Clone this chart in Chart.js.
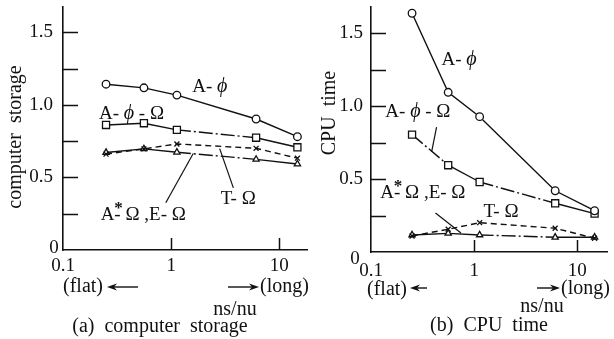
<!DOCTYPE html>
<html>
<head>
<meta charset="utf-8">
<script src="https://cdn.jsdelivr.net/npm/chart.js@4/dist/chart.umd.min.js"></script>
<style>
  html, body { margin: 0; padding: 0; background: #fff; }
  #wrap { position: relative; width: 614px; height: 339px; overflow: hidden; background: #fff; }
  #cvA, #cvB { position: absolute; top: 0; }
  #cvA { left: 0; }
  #cvB { left: 314px; }
</style>
</head>
<body>
<div id="wrap">
  <canvas id="cvA" width="314" height="339"></canvas>
  <canvas id="cvB" width="300" height="339"></canvas>
</div>
<script>
// ns/nu ratios of the test models
const xValues = [0.25, 0.56, 1.13, 6.1, 14.7];
const xTickValues = [0.1, 1, 10];
const xTickLabels = ['0.1', '1', '10'];
const yTickValues = [0, 0.25, 0.5, 0.75, 1, 1.25, 1.5];
const yTickLabels = ['0', '', '0.5', '', '1.0', '', '1.5'];

// (a) computer storage
const storageAPhi       = [1.143, 1.118, 1.068, 0.903, 0.781];
const storageAPhiOmega  = [0.862, 0.874, 0.828, 0.774, 0.708];
const storageTOmega     = [0.661, 0.697, 0.731, 0.701, 0.633];
const storageAStarOmega = [0.672, 0.697, 0.674, 0.625, 0.593];

// (b) CPU time
const cpuAPhi       = [1.637, 1.095, 0.928, 0.420, 0.283];
const cpuAPhiOmega  = [0.805, 0.595, 0.480, 0.334, 0.263];
const cpuTOmega     = [0.110, 0.156, 0.201, 0.163, 0.094];
const cpuAStarOmega = [0.117, 0.128, 0.117, 0.101, 0.101];

const INK = '#111';
const SERIF = '"Liberation Serif", "Times New Roman", "DejaVu Serif", serif';
const Y_MAX = 1.68;
const DASH_DOT = [14, 3, 2, 3];
const DASHED = [6, 4];

Chart.defaults.font.family = SERIF;
Chart.defaults.color = INK;

function pairs(ys) {
  return xValues.map((x, i) => ({ x: x, y: ys[i] }));
}

function segDash(list) {
  return { borderDash: c => (list.includes(c.p0DataIndex) ? DASH_DOT : undefined) };
}

function seriesSet(phi, phiOmega, tOmega, starOmega, dd) {
  const base = {
    borderColor: INK, backgroundColor: '#fff', borderWidth: 1.4,
    pointBorderColor: INK, pointBackgroundColor: '#fff', pointBorderWidth: 1.3,
    tension: 0, fill: false
  };
  return [
    { label: 'A- ϕ', data: pairs(phi), pointStyle: 'circle', pointRadius: 3.8 },
    { label: 'A- ϕ - Ω', data: pairs(phiOmega), pointStyle: 'rect', pointRadius: 5, segment: segDash(dd.phiOmega) },
    { label: 'T- Ω', data: pairs(tOmega), pointStyle: 'crossRot', pointRadius: 3.5, borderDash: DASHED },
    { label: 'A*Ω, E- Ω', data: pairs(starOmega), pointStyle: 'triangle', pointRadius: 3.6, segment: segDash(dd.starOmega) }
  ].map(d => Object.assign({}, base, d));
}

// the scale boxes are pinned so the plot area sits exactly where the axes belong
function pin(s) {
  s.paddingTop = 0; s.paddingBottom = 0; s.paddingLeft = 0; s.paddingRight = 0;
}

function scalesFor(xMax, yWidth, xHeight, yPad, xPad) {
  return {
    x: {
      type: 'logarithmic', min: 0.1, max: xMax,
      afterBuildTicks: s => { s.ticks = xTickValues.map(v => ({ value: v })); },
      afterFit: s => { s.height = xHeight; pin(s); },
      grid: { display: false, drawTicks: false },
      border: { display: true, color: INK, width: 1.6 },
      ticks: { autoSkip: false, maxRotation: 0, minRotation: 0, padding: xPad, color: INK,
               font: { size: 19 }, callback: (v, i) => xTickLabels[i] }
    },
    y: {
      type: 'linear', min: 0, max: Y_MAX,
      afterBuildTicks: s => { s.ticks = yTickValues.map(v => ({ value: v })); },
      afterFit: s => { s.width = yWidth; pin(s); },
      grid: { display: false, drawTicks: false },
      border: { display: true, color: INK, width: 1.6 },
      ticks: { padding: yPad, color: INK, font: { size: 19 },
               callback: (v, i) => (i === 0 ? '' : yTickLabels[i]) }
    }
  };
}

function arrow(ctx, tail, head, y) {
  const d = Math.sign(head - tail);
  ctx.beginPath();
  ctx.moveTo(tail, y); ctx.lineTo(head - d * 4, y);
  ctx.stroke();
  ctx.beginPath();
  ctx.moveTo(head, y);
  ctx.lineTo(head - d * 10, y - 3.5);
  ctx.lineTo(head - d * 7, y);
  ctx.lineTo(head - d * 10, y + 3.5);
  ctx.closePath();
  ctx.fill();
}

// a curve name with the phi set in italic
function drawName(ctx, text, cx, cy) {
  const parts = text.split(/(ϕ)/).filter(p => p.length);
  const fontOf = p => (p === 'ϕ' ? 'italic 20px ' : '19px ') + SERIF;
  let w = 0;
  parts.forEach(p => { ctx.font = fontOf(p); w += ctx.measureText(p).width; });
  let x = cx - w / 2;
  ctx.textAlign = 'left';
  parts.forEach(p => { ctx.font = fontOf(p); ctx.fillText(p, x, cy); x += ctx.measureText(p).width; });
}

function drawStarLabel(ctx, cx, cy) {
  const main = 'A- Ω ,E- Ω';
  ctx.font = '19px ' + SERIF;
  const w = ctx.measureText(main).width;
  const x0 = cx - w / 2;
  ctx.textAlign = 'left';
  ctx.fillText(main, x0, cy);
  const aw = ctx.measureText('A').width;
  const hw = ctx.measureText('-').width;
  ctx.font = 'bold 17px ' + SERIF;
  ctx.textAlign = 'center';
  ctx.fillText('*', x0 + aw + hw / 2 + 1, cy - 6);
}

function marks(notes) {
  return {
    id: 'marks',
    afterDraw(chart) {
      const { ctx, chartArea: a, scales } = chart;
      const sx = scales.x, sy = scales.y;
      const px = v => sx.getPixelForValue(v);
      const py = v => sy.getPixelForValue(v);
      ctx.save();
      ctx.strokeStyle = INK; ctx.fillStyle = INK;

      // tick marks pointing into the plot
      ctx.lineWidth = 1.5;
      ctx.beginPath();
      sy.ticks.forEach(t => {
        if (t.value > 0) { const yy = Math.round(py(t.value)) + 0.5; ctx.moveTo(a.left, yy); ctx.lineTo(a.left + 15, yy); }
      });
      sx.ticks.forEach(t => {
        if (t.value > sx.min) { const xx = Math.round(px(t.value)) + 0.5; ctx.moveTo(xx, a.bottom); ctx.lineTo(xx, a.bottom - 12); }
      });
      ctx.stroke();

      // origin label
      ctx.font = '19px ' + SERIF;
      ctx.textAlign = 'center'; ctx.textBaseline = 'middle';
      ctx.fillText(yTickLabels[0], a.left + notes.zero[0], a.bottom + notes.zero[1]);

      // curve names
      notes.labels.forEach(l => drawName(ctx, l.text, px(l.x), py(l.y)));
      drawStarLabel(ctx, px(notes.star[0]), py(notes.star[1]));

      // leader lines
      ctx.lineWidth = 1.2;
      notes.leaders.forEach(p => {
        ctx.beginPath();
        ctx.moveTo(px(p[0]), py(p[1]));
        ctx.lineTo(px(p[2]), py(p[3]));
        ctx.stroke();
      });

      // axis title
      ctx.save();
      ctx.translate(notes.yTitle.x, notes.yTitle.y);
      ctx.rotate(-Math.PI / 2);
      ctx.font = '20px ' + SERIF;
      ctx.textAlign = 'center';
      ctx.fillText(notes.yTitle.text, 0, 0);
      ctx.restore();

      // captions under the axis
      ctx.font = '20px ' + SERIF;
      notes.captions.forEach(c => {
        ctx.textAlign = c.align;
        ctx.fillText(c.text, c.x, c.y);
      });
      ctx.lineWidth = 1.4;
      notes.arrows.forEach(r => arrow(ctx, r[0], r[1], r[2]));
      ctx.restore();
    }
  };
}

function build(id, datasets, scales, padding, notes) {
  return new Chart(document.getElementById(id), {
    type: 'line',
    data: { datasets: datasets },
    options: {
      responsive: false, animation: false, events: [],
      layout: { padding: padding },
      plugins: { legend: { display: false }, tooltip: { enabled: false } },
      scales: scales
    },
    plugins: [marks(notes)]
  });
}

// (a) computer storage
build('cvA',
  seriesSet(storageAPhi, storageAPhiOmega, storageTOmega, storageAStarOmega,
            { phiOmega: [2], starOmega: [2] }),
  scalesFor(18.3, 63, 89, 10, 5),
  { top: 3, right: 1, left: 0, bottom: 0 },
  {
    zero: [-9, -2],
    labels: [
      { text: 'A- ϕ', x: 2.28, y: 1.127 },
      { text: 'A- ϕ - Ω', x: 0.43, y: 0.937 },
      { text: 'T- Ω', x: 4.17, y: 0.353 }
    ],
    star: [0.552, 0.244],
    leaders: [[0.892, 0.326, 1.6, 0.665], [3.76, 0.428, 2.81, 0.699]],
    yTitle: { text: 'computer  storage', x: 16, y: 137 },
    captions: [
      { text: '(flat)', x: 63, y: 287, align: 'left' },
      { text: '(long)', x: 260, y: 287, align: 'left' },
      { text: 'ns/nu', x: 235, y: 310, align: 'center' },
      { text: '(a)  computer  storage', x: 160, y: 327, align: 'center' }
    ],
    arrows: [[138, 107, 287], [228, 259, 287]]
  });

// (b) CPU time
build('cvB',
  seriesSet(cpuAPhi, cpuAPhiOmega, cpuTOmega, cpuAStarOmega,
            { phiOmega: [0, 2], starOmega: [2] }),
  scalesFor(19.7, 57, 87, 8, 8),
  { top: 7, right: 1, left: 0, bottom: 0 },
  {
    zero: [-16, 7],
    labels: [
      { text: 'A- ϕ', x: 0.713, y: 1.317 },
      { text: 'A- ϕ - Ω', x: 0.285, y: 0.960 },
      { text: 'T- Ω', x: 1.82, y: 0.274 }
    ],
    star: [0.318, 0.405],
    leaders: [[0.432, 0.857, 0.387, 0.686], [0.422, 0.267, 0.745, 0.130]],
    yTitle: { text: 'CPU  time', x: 16, y: 113 },
    captions: [
      { text: '(flat)', x: 53, y: 290, align: 'left' },
      { text: '(long)', x: 247, y: 289, align: 'left' },
      { text: 'ns/nu', x: 228, y: 307, align: 'center' },
      { text: '(b)  CPU  time', x: 175, y: 326, align: 'center' }
    ],
    arrows: [[113, 96, 288], [223, 246, 288]]
  });
</script>
</body>
</html>
